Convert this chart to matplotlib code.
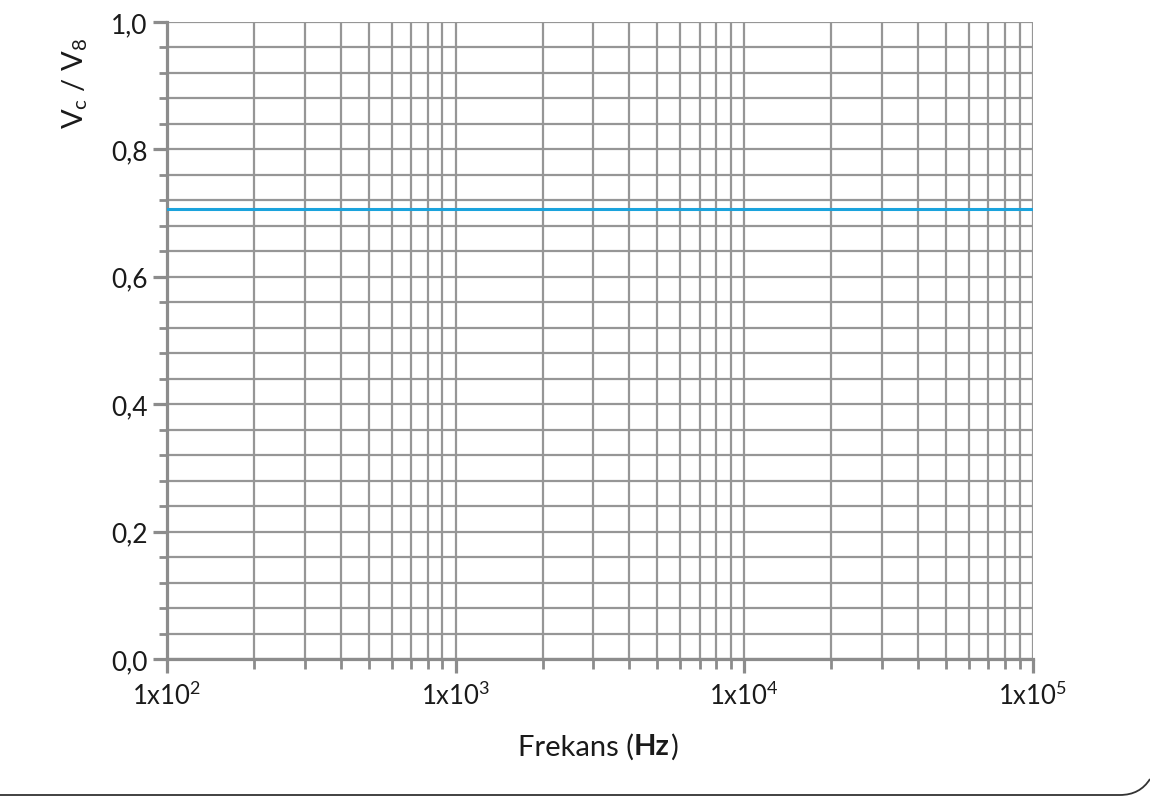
import numpy as np
import matplotlib
matplotlib.use("Agg")
import matplotlib.pyplot as plt
from matplotlib.ticker import FixedLocator, NullFormatter, LogLocator
from matplotlib.offsetbox import TextArea, HPacker, AnnotationBbox
from matplotlib.path import Path
from matplotlib.patches import PathPatch

plt.rcParams['font.family'] = ['Lato', 'DejaVu Sans']
plt.rcParams['mathtext.fontset'] = 'custom'
plt.rcParams['mathtext.rm'] = 'Lato'
plt.rcParams['mathtext.it'] = 'Lato'

# data
freq = [1e2, 1e5]
ratio = [0.707, 0.707]
xtick_vals = [1e2, 1e3, 1e4, 1e5]
xtick_labels = ["1x10$^{2}$", "1x10$^{3}$", "1x10$^{4}$", "1x10$^{5}$"]
ytick_vals = [0.0, 0.2, 0.4, 0.6, 0.8, 1.0]
ytick_labels = ["0,0", "0,2", "0,4", "0,6", "0,8", "1,0"]

grid_c = "#969696"
spine_c = "#8c8c8c"

fig = plt.figure(figsize=(11.5, 8.04), dpi=100)
ax = fig.add_axes([0.1452, 0.1791, 0.753, 0.7923])

ax.plot(freq, ratio, color="#1ba3dc", lw=2.2, zorder=5)

ax.set_xscale("log")
ax.set_xlim(1e2, 1e5)
ax.set_ylim(0, 1.0)

ax.set_xticks(xtick_vals)
ax.set_xticklabels(xtick_labels, fontsize=18.5)
ax.xaxis.set_minor_locator(LogLocator(base=10, subs=np.arange(2, 10)))
ax.xaxis.set_minor_formatter(NullFormatter())

ax.set_yticks(ytick_vals)
ax.set_yticklabels(ytick_labels, fontsize=19)
ax.yaxis.set_minor_locator(FixedLocator(np.arange(0, 1.001, 0.04)))

ax.grid(True, which="both", color=grid_c, lw=1.6)
ax.set_axisbelow(True)

for s in ["top", "right"]:
    ax.spines[s].set_visible(False)
for s in ["left", "bottom"]:
    ax.spines[s].set_color(spine_c)
    ax.spines[s].set_linewidth(2.3)

ax.tick_params(axis="both", which="major", color=spine_c, width=2.3, length=10,
               labelcolor="#1a1a1a")
ax.tick_params(axis="y", which="minor", color=spine_c, width=2.0, length=6)
ax.tick_params(axis="x", which="minor", color=spine_c, width=2.0, length=7)
ax.tick_params(axis="x", which="major", pad=6)
ax.tick_params(axis="y", which="major", pad=4)

# y label
fig.text(75 / 1150, 1 - 83 / 804, "V$_{c}$ / V$_{8}$", rotation=90,
         fontsize=21, ha="center", va="center", color="#1a1a1a")

# x label with bold unit
parts = HPacker(children=[
    TextArea("Frekans (", textprops=dict(fontsize=21, color="#1a1a1a")),
    TextArea("Hz", textprops=dict(fontsize=21, color="#1a1a1a", fontweight="bold")),
    TextArea(")", textprops=dict(fontsize=21, color="#1a1a1a")),
], align="baseline", pad=0, sep=0)
ab = AnnotationBbox(parts, (598 / 1150, 1 - 747 / 804), xycoords="figure fraction",
                    frameon=False, box_alignment=(0.5, 0.5))
fig.add_artist(ab)

# frame line at bottom with rounded corner
W, H = 1150.0, 804.0
verts = [(0, 1 - 796 / H), (1120 / W, 1 - 796 / H),
         (1140 / W, 1 - 796 / H), (1150 / W, 1 - 780 / H)]
codes = [Path.MOVETO, Path.LINETO, Path.CURVE3, Path.CURVE3]
fig.add_artist(PathPatch(Path(verts, codes), transform=fig.transFigure,
                         fill=False, edgecolor="#333333", lw=1.3))

fig.savefig("out.png", dpi=100)
